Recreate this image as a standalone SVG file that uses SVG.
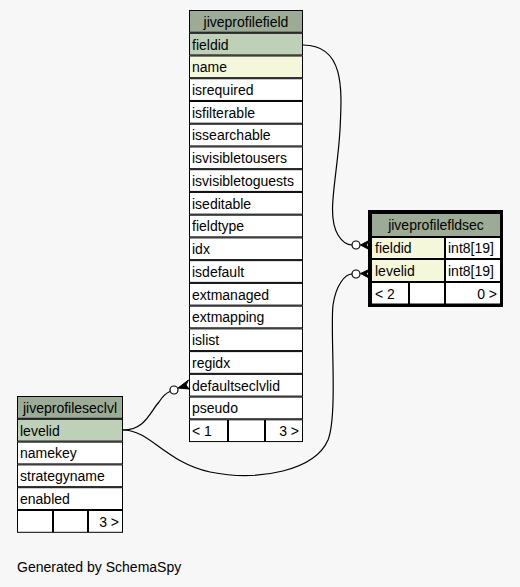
<svg xmlns="http://www.w3.org/2000/svg" width="520" height="587" viewBox="0 0 520 587">
<style>
text{font-family:"Liberation Sans",Arial,sans-serif;font-size:14px;fill:#000}
.c{stroke:#000;stroke-width:1}
.h{fill:#9bab96}
.pk{fill:#bed1b8}
.ix{fill:#f4f7da}
.w{fill:#ffffff}
.m{text-anchor:middle}
.r{text-anchor:end}
.e{fill:none;stroke:#000;stroke-width:1.2}
.o{fill:#ffffff;stroke:#000;stroke-width:1.2}
.cf{fill:#000;stroke:#000;stroke-width:1}
</style>
<rect width="520" height="587" fill="#f7f7f7"/>

<g id="connectors">
  <path class="e" d="M303,45 C345,45 342,90 340,130 C337,180 326,215 338,235 C343,243 348,245 352,245"/>
  <circle class="o" cx="356" cy="245" r="4"/>
  <path class="cf" d="M369,240.5 L360.5,245 L369,249.5 L366.5,245 Z"/>

  <path class="e" d="M123,430 C150,430 165,462 210,472 C260,482 315,470 328,440 C338,415 330,330 333,305 C336,285 345,274 352,274"/>
  <circle class="o" cx="356" cy="274" r="4"/>
  <path class="cf" d="M369,269.5 L360.5,273.5 L369,278 L366.5,273.8 Z"/>

  <path class="e" d="M123,430 C145,430 150,412 159,402 C163,396 166,393 170,391.5"/>
  <circle class="o" cx="174" cy="390" r="4"/>
  <path class="cf" d="M188.5,380 L178,388 L189,389 L186,385 Z"/>
</g>

<g id="jiveprofilefield">
  <rect class="c h" x="189.5" y="10.5" width="113" height="21.74"/>
  <text class="m" x="246" y="27">jiveprofilefield</text>
  <rect class="c pk" x="189.5" y="33.24" width="113" height="21.74"/>
  <text x="192" y="49.5">fieldid</text>
  <rect class="c ix" x="189.5" y="55.98" width="113" height="21.74"/>
  <text x="192" y="72.2">name</text>
  <rect class="c w" x="189.5" y="78.72" width="113" height="21.74"/>
  <text x="192" y="94.9">isrequired</text>
  <rect class="c w" x="189.5" y="101.46" width="113" height="21.74"/>
  <text x="192" y="117.7">isfilterable</text>
  <rect class="c w" x="189.5" y="124.2" width="113" height="21.74"/>
  <text x="192" y="140.4">issearchable</text>
  <rect class="c w" x="189.5" y="146.94" width="113" height="21.74"/>
  <text x="192" y="163.2">isvisibletousers</text>
  <rect class="c w" x="189.5" y="169.68" width="113" height="21.74"/>
  <text x="192" y="185.9">isvisibletoguests</text>
  <rect class="c w" x="189.5" y="192.42" width="113" height="21.74"/>
  <text x="192" y="208.6">iseditable</text>
  <rect class="c w" x="189.5" y="215.16" width="113" height="21.74"/>
  <text x="192" y="231.4">fieldtype</text>
  <rect class="c w" x="189.5" y="237.9" width="113" height="21.74"/>
  <text x="192" y="254.1">idx</text>
  <rect class="c w" x="189.5" y="260.64" width="113" height="21.74"/>
  <text x="192" y="276.9">isdefault</text>
  <rect class="c w" x="189.5" y="283.38" width="113" height="21.74"/>
  <text x="192" y="299.6">extmanaged</text>
  <rect class="c w" x="189.5" y="306.12" width="113" height="21.74"/>
  <text x="192" y="322.3">extmapping</text>
  <rect class="c w" x="189.5" y="328.86" width="113" height="21.74"/>
  <text x="192" y="345.1">islist</text>
  <rect class="c w" x="189.5" y="351.6" width="113" height="21.74"/>
  <text x="192" y="367.8">regidx</text>
  <rect class="c w" x="189.5" y="374.34" width="113" height="21.74"/>
  <text x="192" y="390.6">defaultseclvlid</text>
  <rect class="c w" x="189.5" y="397.08" width="113" height="21.74"/>
  <text x="192" y="413.3">pseudo</text>
  <rect class="c w" x="189.5" y="419.82" width="38" height="21.74"/>
  <rect class="c w" x="228.5" y="419.82" width="36" height="21.74"/>
  <rect class="c w" x="265.5" y="419.82" width="37" height="21.74"/>
  <text x="192" y="436">&lt; 1</text>
  <text class="r" x="299" y="436">3 &gt;</text>
</g>

<g id="jiveprofilefldsec">
  <rect x="369.5" y="211.5" width="132" height="94" fill="#ffffff" stroke="#000" stroke-width="3"/>
  <rect class="c h" x="371.5" y="213.5" width="129" height="23"/>
  <text class="m" x="436" y="230">jiveprofilefldsec</text>
  <rect class="c ix" x="371.5" y="237.5" width="73" height="21"/>
  <rect class="c w" x="445.5" y="237.5" width="55" height="21"/>
  <text x="375" y="253">fieldid</text>
  <text x="448" y="253">int8[19]</text>
  <rect class="c ix" x="371.5" y="259.5" width="73" height="22"/>
  <rect class="c w" x="445.5" y="259.5" width="55" height="22"/>
  <text x="375" y="275.5">levelid</text>
  <text x="448" y="275.5">int8[19]</text>
  <rect class="c w" x="371.5" y="282.5" width="37" height="21.5"/>
  <rect class="c w" x="409.5" y="282.5" width="35" height="21.5"/>
  <rect class="c w" x="445.5" y="282.5" width="55" height="21.5"/>
  <text x="375" y="298.5">&lt; 2</text>
  <text class="r" x="497" y="298.5">0 &gt;</text>
</g>

<g id="jiveprofileseclvl">
  <rect class="c h" x="17.5" y="396.5" width="105" height="21.8"/>
  <text class="m" x="70" y="413">jiveprofileseclvl</text>
  <rect class="c pk" x="17.5" y="419.3" width="105" height="21.8"/>
  <text x="20" y="435.5">levelid</text>
  <rect class="c w" x="17.5" y="442.1" width="105" height="21.8"/>
  <text x="20" y="458.3">namekey</text>
  <rect class="c w" x="17.5" y="464.9" width="105" height="21.8"/>
  <text x="20" y="481.1">strategyname</text>
  <rect class="c w" x="17.5" y="487.7" width="105" height="21.8"/>
  <text x="20" y="503.9">enabled</text>
  <rect class="c w" x="17.5" y="510.5" width="35" height="21.8"/>
  <rect class="c w" x="53.5" y="510.5" width="34" height="21.8"/>
  <rect class="c w" x="88.5" y="510.5" width="34" height="21.8"/>
  <text class="r" x="119" y="526.7">3 &gt;</text>
</g>

<text x="17" y="572">Generated by SchemaSpy</text>
</svg>
